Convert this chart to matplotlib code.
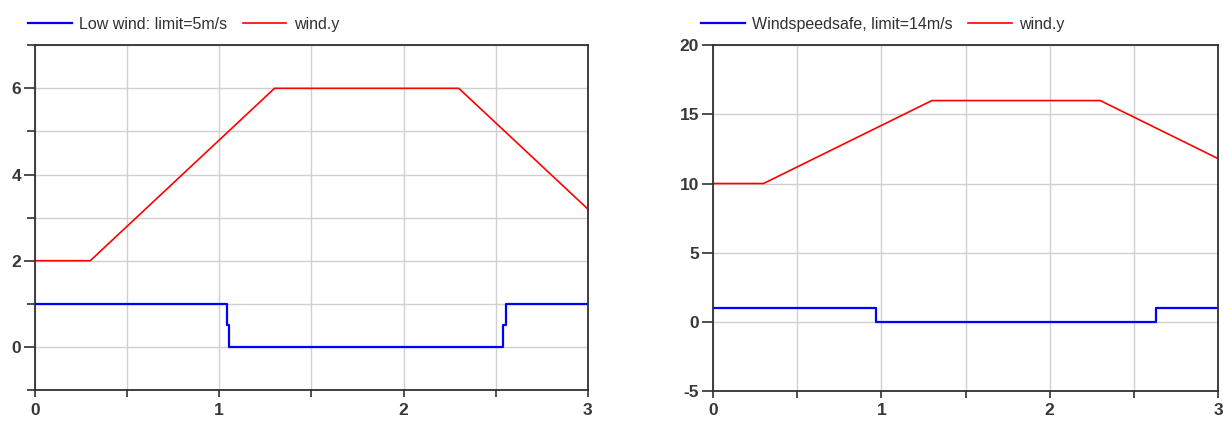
import matplotlib.pyplot as plt
from matplotlib.ticker import MultipleLocator

plt.rcParams['font.family'] = ['Liberation Sans', 'DejaVu Sans']
plt.rcParams['axes.unicode_minus'] = False

# wind speed profile (same shape, two offsets)
t_wind = [0, 0.3, 1.3, 2.3, 3.0]
wind_low = [2, 2, 6, 6, 3.2]
wind_safe = [10, 10, 16, 16, 11.8]

# low wind signal, limit 5 m/s
t_low = [0, 1.04, 1.04, 1.055, 1.055, 2.54, 2.54, 2.555, 2.555, 3.0]
low_sig = [1, 1, 0.5, 0.5, 0, 0, 0.5, 0.5, 1, 1]

# wind speed safe signal, limit 14 m/s
t_safe = [0, 0.97, 0.97, 2.63, 2.63, 3.0]
safe_sig = [1, 1, 0, 0, 1, 1]

blue = '#0000ff'
red = '#ff0000'

fig = plt.figure(figsize=(12.23, 4.21), dpi=100)
ax1 = fig.add_axes([0.0286, 0.0736, 0.452, 0.819])
ax2 = fig.add_axes([0.583, 0.0715, 0.413, 0.821])


def style(ax):
    ax.grid(True, which='both', color='#d0d0d0', linewidth=1.0)
    ax.set_axisbelow(True)
    for s in ax.spines.values():
        s.set_color('#303030')
        s.set_linewidth(1.3)
    ax.tick_params(which='both', direction='out', width=1.2,
                   color='#303030', labelsize=12.5, labelcolor='#383838')
    ax.tick_params(axis='x', which='both', length=5, pad=4)
    ax.tick_params(axis='y', which='major', length=8, pad=2)
    ax.tick_params(axis='y', which='minor', length=6)
    ax.set_xlim(0, 3)
    ax.xaxis.set_major_locator(MultipleLocator(1))
    ax.xaxis.set_minor_locator(MultipleLocator(0.5))
    for lab in ax.get_xticklabels() + ax.get_yticklabels():
        lab.set_fontweight('bold')


def add_legend(ax, x0):
    ax.legend(loc='lower left', bbox_to_anchor=(x0, 1.02), ncol=2, frameon=False,
              fontsize=11.5, handlelength=2.75, handletextpad=0.45,
              columnspacing=0.95, borderaxespad=0, labelcolor='#303030')


ax1.plot(t_low, low_sig, color=blue, lw=1.6, label='Low wind: limit=5m/s')
ax1.plot(t_wind, wind_low, color=red, lw=1.2, label='wind.y')
ax1.set_ylim(-1, 7)
ax1.yaxis.set_major_locator(MultipleLocator(2))
ax1.yaxis.set_minor_locator(MultipleLocator(1))
style(ax1)
add_legend(ax1, -0.024)

ax2.plot(t_safe, safe_sig, color=blue, lw=1.6, label='Windspeedsafe, limit=14m/s')
ax2.plot(t_wind, wind_safe, color=red, lw=1.2, label='wind.y')
ax2.set_ylim(-5, 20)
ax2.yaxis.set_major_locator(MultipleLocator(5))
style(ax2)
add_legend(ax2, -0.036)

fig.savefig('out.png', dpi=100)
